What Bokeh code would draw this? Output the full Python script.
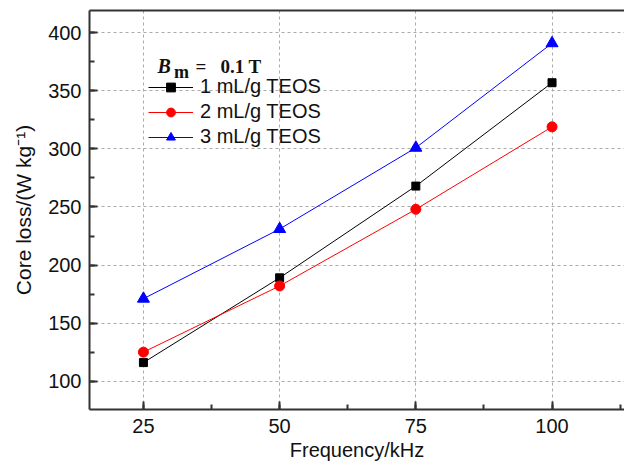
from bokeh.plotting import figure
from bokeh.models import (Legend, LegendItem, Label, LinearAxis, FixedTicker,
                          SingleIntervalTicker, Range1d)
from bokeh.embed import file_html
from bokeh.resources import INLINE

# ---- data ----
freq = [25, 50, 75, 100]
loss_1 = [116, 189, 268, 357]
loss_2 = [125, 182, 248, 319]
loss_3 = [171, 231, 301, 391]
series_names = ["1 mL/g TEOS", "2 mL/g TEOS", "3 mL/g TEOS"]
x_label = "Frequency/kHz"
y_label = "Core loss/(W kg\u207b\u00b9)"

FONT = "Liberation Sans"
SERIF = "Liberation Serif"
AX = "#333333"
TXT = "#111111"

p = figure(frame_width=535, frame_height=399, output_backend="svg",
           toolbar_location=None,
           x_range=Range1d(15.1, 113.3), y_range=Range1d(75.6, 419.2),
           min_border_left=89, min_border_right=0, min_border_top=10,
           min_border_bottom=58)
p.outline_line_color = None
p.background_fill_color = "white"
p.border_fill_color = "white"

# axes
for ax in (p.xaxis[0], p.yaxis[0]):
    ax.axis_line_color = AX
    ax.axis_line_width = 2
    ax.major_tick_line_color = AX
    ax.major_tick_line_width = 2
    ax.minor_tick_line_color = AX
    ax.minor_tick_line_width = 2
    ax.major_tick_in = 8
    ax.major_tick_out = 0
    ax.minor_tick_in = 5
    ax.minor_tick_out = 0
    ax.major_label_text_font = FONT
    ax.major_label_text_font_size = "20px"
    ax.major_label_text_color = TXT
    ax.axis_label_text_font = FONT
    ax.axis_label_text_font_size = "20px"
    ax.axis_label_text_font_style = "normal"
    ax.axis_label_text_color = TXT
p.xaxis[0].ticker = SingleIntervalTicker(interval=25, num_minor_ticks=2)
p.yaxis[0].ticker = SingleIntervalTicker(interval=50, num_minor_ticks=2)
p.xaxis[0].major_label_standoff = 9
p.yaxis[0].major_label_standoff = 8
p.xaxis[0].axis_label = x_label
p.yaxis[0].axis_label = y_label
p.yaxis[0].axis_label_text_font_size = "21px"
p.xaxis[0].axis_label_standoff = 3
p.yaxis[0].axis_label_standoff = 10

top_axis = LinearAxis(ticker=FixedTicker(ticks=[]), axis_line_color=AX,
                      axis_line_width=2, major_tick_line_color=None,
                      minor_tick_line_color=None,
                      major_label_text_font_size="0px", major_label_standoff=0)
p.add_layout(top_axis, "above")

# grid
for g in (p.xgrid[0], p.ygrid[0]):
    g.grid_line_color = "#aaaaaa"
    g.grid_line_dash = "3 3"
    g.grid_line_width = 1

# series
colors = ["black", "#ff0000", "#0000ff"]
markers = ["square", "circle", "triangle"]
sizes = [8, 10, 12]
items = []
for ys, c, m, s, name in zip([loss_1, loss_2, loss_3], colors, markers, sizes, series_names):
    r1 = p.line(freq, ys, line_color=c, line_width=1)
    r2 = p.scatter(freq, ys, marker=m, size=s, fill_color=c, line_color=c)
    items.append(LegendItem(label=name, renderers=[r1, r2]))

legend = Legend(items=items, location=(59, 261), padding=0, margin=0,
                spacing=2, glyph_width=45, glyph_height=22, label_height=20,
                label_standoff=7, label_text_font=FONT,
                label_text_font_size="20px", label_text_color=TXT,
                border_line_color=None, background_fill_alpha=0)
p.add_layout(legend)

# legend title  B_m = 0.1 T
p.add_layout(Label(x=27.57, y=371.0, text="B", text_font=SERIF,
                   text_font_style="bold italic", text_font_size="20px",
                   text_baseline="alphabetic", text_color=TXT))
p.add_layout(Label(x=30.6, y=366.5, text="m", text_font=SERIF,
                   text_font_style="bold", text_font_size="18px",
                   text_baseline="alphabetic", text_color=TXT))
p.add_layout(Label(x=34.54, y=371.0, text="=", text_font=SERIF,
                   text_font_style="bold", text_font_size="19px",
                   text_baseline="alphabetic", text_color=TXT))
p.add_layout(Label(x=39.13, y=371.0, text="0.1 T", text_font=SERIF,
                   text_font_style="bold", text_font_size="19px",
                   text_baseline="alphabetic", text_color=TXT))

open("out.html", "w").write(file_html(p, INLINE))
